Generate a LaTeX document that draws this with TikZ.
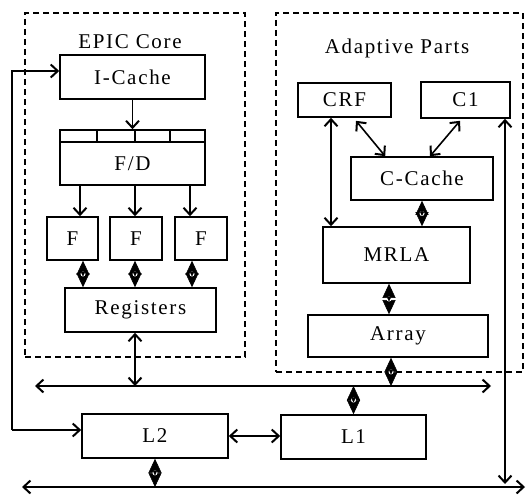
\documentclass[tikz,border=0pt]{standalone}
\usepackage{fontspec}
\setmainfont[LetterSpace=8]{Liberation Serif}
\usetikzlibrary{arrows.meta,calc}
\begin{document}
\begin{tikzpicture}[x=1pt,y=-1pt,
  box/.style={draw,line width=1.6pt,inner sep=0pt,font=\fontsize{21}{24}\selectfont},
  lbl/.style={font=\fontsize{21}{24}\selectfont,inner sep=0pt},
  grp/.style={draw,line width=1.3pt,dash pattern=on 6pt off 4pt,inner sep=0pt},
  con/.style={line width=1.6pt},
  tip/.style={},
  ar/.style={con,-{Straight Barb[length=7pt,width=13pt,line width=2pt]}},
  dar/.style={con,{Straight Barb[length=7pt,width=13pt,line width=2pt]}-{Straight Barb[length=7pt,width=13pt,line width=2pt]}},
  dia/.style={con,{Triangle[length=14pt,width=13pt,line width=0.5pt]}-{Triangle[length=14pt,width=13pt,line width=0.5pt]}},
  dot/.style={circle,fill=white,inner sep=0pt,minimum size=5pt,
    path picture={\draw[line width=0.9pt] (path picture bounding box.north) -- (path picture bounding box.south);}}
]
\useasboundingbox (0,0) rectangle (526,495);

% group frames
\node[grp,minimum width=220pt,minimum height=344pt] (epic) at (135,185) {};
\node[grp,minimum width=247pt,minimum height=359pt] (adapt) at (399.5,192.5) {};
\node[lbl] (epiclbl) at (130,42) {EPIC Core};
\node[lbl] (adlbl) at (397,48) {Adaptive Parts};

% EPIC core boxes
\node[box,minimum width=145pt,minimum height=44pt] (icache) at (132.5,77) {I-Cache};
\node[box,minimum width=145pt,minimum height=55pt] (fd) at (132.5,157.5) {};
\node[lbl] (fdl) at (132.5,164) {F/D};
\draw[con] ($(fd.north west)+(0,13)$) -- ($(fd.north east)+(0,13)$);
\draw[con] (97,130) -- (97,143) (135,130) -- (135,143) (170,130) -- (170,143);
\node[box,minimum width=51pt,minimum height=43pt] (f1) at (72.5,238.5) {F};
\node[box,minimum width=52pt,minimum height=43pt] (f2) at (136,238.5) {F};
\node[box,minimum width=52pt,minimum height=43pt] (f3) at (201,238.5) {F};
\node[box,minimum width=151pt,minimum height=44pt] (reg) at (140.5,310) {Registers};

% memory
\node[box,minimum width=146pt,minimum height=44pt] (l2) at (155,436) {L2};
\node[box,minimum width=145pt,minimum height=44pt] (l1) at (353.5,437) {L1};

% adaptive parts
\node[box,minimum width=93pt,minimum height=34pt] (crf) at (344.5,100) {CRF};
\node[box,minimum width=89pt,minimum height=36pt] (c1) at (465.5,100) {C1};
\node[box,minimum width=142pt,minimum height=43pt] (ccache) at (422,178.5) {C-Cache};
\node[box,minimum width=147pt,minimum height=56pt] (mrla) at (396.5,255) {MRLA};
\node[box,minimum width=180pt,minimum height=42pt] (array) at (398,336) {Array};

% helper coordinates
\coordinate (a1) at (80,200);
\coordinate (a2) at (135,200);
\coordinate (a3) at (190,200);
\coordinate (d1) at (83,270);
\coordinate (d2) at (135,270);
\coordinate (d3) at (192,270);
\coordinate (rb) at (135,350);
\coordinate (b1l) at (35,386);
\coordinate (b1r) at (491,386);
\coordinate (b2l) at (22,487);
\coordinate (b2r) at (525,487);
\coordinate (lp) at (12,430);
\coordinate (lpt) at (12,71);
\coordinate (vc) at (505,484);
\coordinate (cm) at (331,150);
\coordinate (ma) at (389,300);
\coordinate (ab) at (391,370);

% EPIC connectors
\draw[ar] (icache.south) -- (fd.north);
\draw[ar] (fd.south -| a1) -- (a1 |- f1.north);
\draw[ar] (fd.south -| a2) -- (a2 |- f2.north);
\draw[ar] (fd.south -| a3) -- (a3 |- f3.north);
\draw[dia] (f1.south -| d1) -- (d1 |- reg.north) node[midway,dot] {};
\draw[dia] (f2.south -| d2) -- (d2 |- reg.north) node[midway,dot] {};
\draw[dia] (f3.south -| d3) -- (d3 |- reg.north) node[midway,dot] {};
\draw[dar] (reg.south -| rb) -- (rb |- b1l);

% buses
\draw[dar] (b1l) -- (b1r);
\draw[dar] (b2l) -- (b2r);

% loop to I-Cache and L2
\draw[ar] (lp) -- (lpt) -- (lpt -| icache.west);
\draw[ar] (lp) -- (lp -| l2.west);

% memory connectors
\draw[dar] (l2.east) -- (l2.east -| l1.west);
\draw[dia] (b1l -| l1.north) -- (l1.north) node[midway,dot] {};
\draw[dia] (l2.south) -- (l2.south |- b2l) node[midway,dot] {};

% adaptive connectors
\draw[dar] ($(crf.south)+(11.5,3)$) -- ($(ccache.north west)+(35,0)$);
\draw[dar] ($(c1.south)+(-5.5,2)$) -- ($(ccache.north)+(8,0)$);
\draw[dar] (crf.south -| cm) -- (cm |- mrla.north);
\draw[dia] (ccache.south) -- (ccache.south |- mrla.north) node[midway,dot] {};
\draw[dia] (mrla.south -| ma) -- (ma |- array.north) node[midway,dot] {};
\draw[dia] (array.south -| ab) -- (ab |- b1l) node[midway,dot] {};
\draw[dar] (c1.south -| vc) -- (vc);
\end{tikzpicture}
\end{document}
